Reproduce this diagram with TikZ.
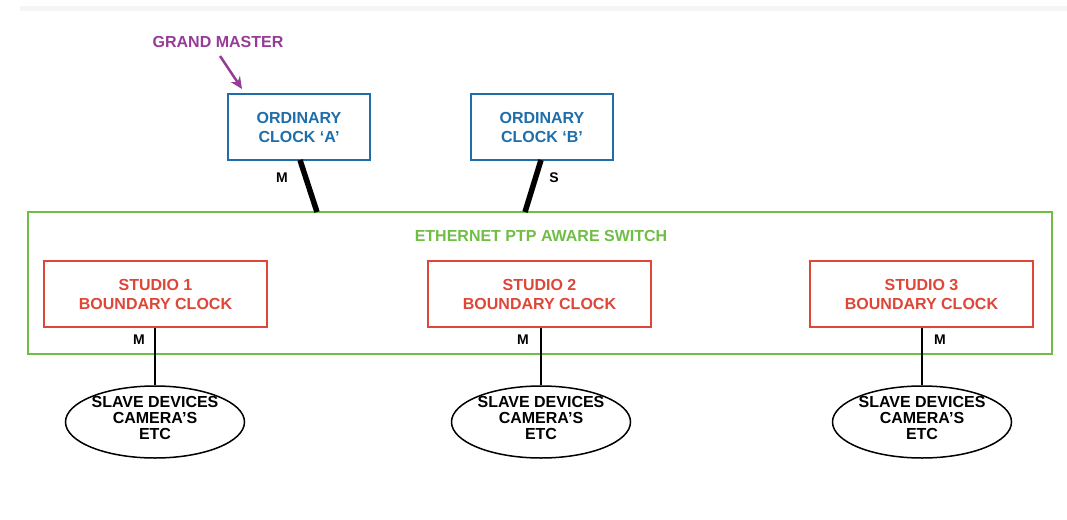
\documentclass[tikz,border=0pt]{standalone}
\usepackage{fontspec}
\setmainfont{Liberation Sans}
\usetikzlibrary{shapes.geometric,arrows.meta}
\definecolor{clkblue}{RGB}{31,110,170}
\definecolor{bcred}{RGB}{222,70,55}
\definecolor{swgreen}{RGB}{112,190,70}
\definecolor{gmpurple}{RGB}{150,60,150}
\tikzset{
  lbl/.style={font=\fontsize{16}{19}\selectfont\bfseries, align=center},
  oc/.style={draw=clkblue, line width=1.5pt, text=clkblue, lbl},
  bc/.style={draw=bcred, line width=1.5pt, text=bcred, lbl},
  slave/.style={ellipse, draw=black, line width=1.5pt, inner sep=0pt, minimum width=179pt, minimum height=72pt},
  slavetext/.style={font=\fontsize{16}{16}\selectfont\bfseries, align=center, inner sep=0pt},
  mlabel/.style={font=\fontsize{14}{16}\selectfont\bfseries, text=black},
  thickl/.style={line width=5.5pt},
  thinl/.style={line width=2pt},
}
\begin{document}
\begin{tikzpicture}[x=1pt,y=-1pt]
\useasboundingbox (0,0) rectangle (1067,519);
\fill[white] (0,0) rectangle (1067,519);
\fill[black!4] (20,6) rectangle (1067,11);
% switch
\node[draw=swgreen, line width=1.5pt, minimum width=1024pt, minimum height=142pt, inner sep=0pt] (sw) at (540,283) {};
\node[lbl, text=swgreen] (swlabel) at (541,236) {ETHERNET PTP AWARE SWITCH};
% ordinary clocks
\node[oc, minimum width=142pt, minimum height=66pt, inner sep=0pt] (ocA) at (299,127) {ORDINARY\\CLOCK `A'};
\node[oc, minimum width=142pt, minimum height=66pt, inner sep=0pt] (ocB) at (542,127) {ORDINARY\\CLOCK `B'};
% grand master
\node[lbl, text=gmpurple] (gm) at (218,42) {GRAND MASTER};
\coordinate (gmtail) at (220,56);
\coordinate (gmtip) at (242,89);
\draw[gmpurple, line width=2.5pt, -{Stealth[length=12pt,width=11pt]}] (gmtail) -- (gmtip);
% links to switch
\coordinate (swA) at (317,212);
\coordinate (swB) at (525,212);
\coordinate (ocAb) at (300,160);
\coordinate (ocBb) at (541,160);
\draw[thickl] (ocAb) -- (swA);
\draw[thickl] (ocBb) -- (swB);
\node[mlabel] (mA) at (282,178) {M};
\node[mlabel] (sB) at (554,178) {S};
% boundary clocks
\node[bc, minimum width=223pt, minimum height=66pt, inner sep=0pt] (bc1) at (155.5,294) {STUDIO 1\\BOUNDARY CLOCK};
\node[bc, minimum width=223pt, minimum height=66pt, inner sep=0pt] (bc2) at (539.5,294) {STUDIO 2\\BOUNDARY CLOCK};
\node[bc, minimum width=223pt, minimum height=66pt, inner sep=0pt] (bc3) at (921.5,294) {STUDIO 3\\BOUNDARY CLOCK};
% slave devices
\node[slave] (sl1) at (155,422) {};
\node[slave] (sl2) at (541,422) {};
\node[slave] (sl3) at (922,422) {};
\node[slavetext] (sl1t) at (155,418) {SLAVE DEVICES\\CAMERA'S\\ETC};
\node[slavetext] (sl2t) at (541,418) {SLAVE DEVICES\\CAMERA'S\\ETC};
\node[slavetext] (sl3t) at (922,418) {SLAVE DEVICES\\CAMERA'S\\ETC};
\draw[thinl] (bc1.south -| sl1.north) -- (sl1.north);
\draw[thinl] (bc2.south -| sl2.north) -- (sl2.north);
\draw[thinl] (bc3.south -| sl3.north) -- (sl3.north);
\node[mlabel] (m1) at (139,340) {M};
\node[mlabel] (m2) at (523,340) {M};
\node[mlabel] (m3) at (940,340) {M};
\end{tikzpicture}
\end{document}
